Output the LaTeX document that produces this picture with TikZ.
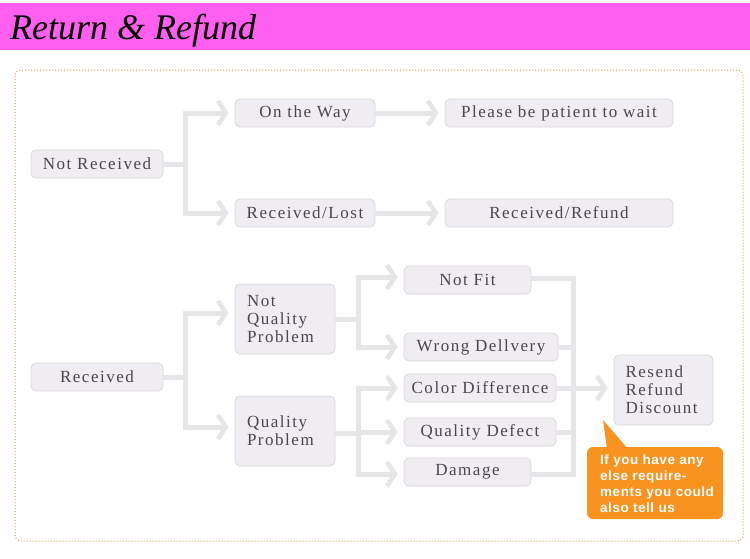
\documentclass[tikz,border=0pt]{standalone}
\usepackage{fontspec}
\setmainfont{Liberation Serif}
\newfontfamily\nodefont[LetterSpace=9]{Liberation Serif}
\newfontfamily\notefont[LetterSpace=4]{Liberation Sans}
\usetikzlibrary{arrows.meta}
\definecolor{bandpink}{HTML}{FF5EEF}
\definecolor{framegold}{HTML}{CFA24A}
\definecolor{boxfill}{HTML}{EFEDF1}
\definecolor{boxline}{HTML}{D9D7DB}
\definecolor{boxtext}{HTML}{4A4650}
\definecolor{connc}{HTML}{E6E5E8}
\definecolor{noteorange}{HTML}{F7931E}
\tikzset{
  box/.style={draw=boxline, fill=boxfill, rounded corners=5pt, line width=0.8pt,
    text=boxtext, font=\nodefont\fontsize{17}{18}\selectfont, minimum height=28pt,
    inner sep=0pt, align=left},
  conn/.style={draw=connc, line width=5pt},
  arrconn/.style={conn, -{Straight Barb[length=8pt,width=24pt,line width=4.5pt]}, shorten >=6pt},
}
\begin{document}
\begin{tikzpicture}[x=1pt,y=-1pt]
\useasboundingbox (0,0) rectangle (750,558);
\fill[white] (0,0) rectangle (750,558);
% header
\fill[bandpink] (0,3) rectangle (750,50);
\node[anchor=base west, inner sep=0pt, font=\fontsize{36}{40}\selectfont\itshape, text=black] (title) at (10,39) {Return \& Refund};
% frame
\draw[framegold, dotted, line width=1pt, rounded corners=6pt] (15,70) rectangle (743,541);

% nodes
\node[box, minimum width=132pt] (nr) at (97,164) {Not Received};
\node[box, minimum width=140pt] (otw) at (305,113) {On the Way};
\node[box, minimum width=140pt] (rl) at (305,213) {Received/Lost};
\node[box, minimum width=228pt] (wait) at (559,113) {Please be patient to wait};
\node[box, minimum width=228pt] (rr) at (559,213) {Received/Refund};
\node[box, minimum width=132pt] (rec) at (97,377) {Received};
\node[box, minimum width=100pt, minimum height=70pt, text width=76pt] (nqp) at (285,319) {Not\\Quality\\Problem};
\node[box, minimum width=100pt, minimum height=70pt, text width=76pt] (qp) at (285,431) {Quality\\Problem};
\node[box, minimum width=127pt] (nf) at (467.5,280) {Not Fit};
\node[box, minimum width=154pt] (wd) at (481,347) {Wrong Dellvery};
\node[box, minimum width=152pt] (cd) at (480,388) {Color Difference};
\node[box, minimum width=152pt] (qd) at (480,432) {Quality Defect};
\node[box, minimum width=127pt] (dm) at (467.5,472) {Damage};
\node[box, minimum width=99pt, minimum height=70pt, text width=76pt] (res) at (663.5,390) {Resend\\Refund\\Discount};

% callout
\fill[noteorange, rounded corners=6pt] (587,447) rectangle (723,519);
\fill[noteorange] (603,420) -- (607,449) -- (628,449) -- cycle;
\node[anchor=north west, inner sep=0pt, align=left, text=white,
  font=\notefont\bfseries\fontsize{13.5}{16}\selectfont] (note) at (600,455)
  {If you have any\\else require-\\ments you could\\also tell us};

% connectors: Not Received
\coordinate (j1) at (185,164);
\draw[conn] (nr.east) -- (j1);
\draw[arrconn] (j1) |- (otw.west);
\draw[arrconn] (j1) |- (rl.west);
\draw[arrconn] (otw.east) -- (wait.west);
\draw[arrconn] (rl.east) -- (rr.west);

% Received
\coordinate (j2) at (185,377);
\draw[conn] (rec.east) -- (j2);
\draw[arrconn] (j2) |- ([yshift=6pt]nqp.west);
\draw[arrconn] (j2) |- ([yshift=4pt]qp.west);

% Not Quality Problem
\coordinate (j3) at (358,319);
\draw[conn] (nqp.east) -- (j3);
\draw[arrconn] (j3) |- ([yshift=3pt]nf.west);
\draw[arrconn] (j3) |- (wd.west);

% Quality Problem
\coordinate (j4) at (358,433);
\draw[conn] (qp.east |- j4) -- (j4);
\draw[arrconn] (j4) |- (cd.west);
\draw[arrconn] (j4) |- (qd.west);
\draw[arrconn] (j4) |- ([yshift=-2pt]dm.west);

% right bus
\coordinate (bus) at (573,388);
\draw[conn] ([yshift=2pt]nf.east) -| (bus);
\draw[conn] ([yshift=-2pt]dm.east) -| (bus);
\draw[conn] (wd.east) -- (wd.east -| bus);
\draw[conn] (qd.east) -- (qd.east -| bus);
\draw[arrconn] (cd.east) -- (cd.east -| res.west);
\end{tikzpicture}
\end{document}
